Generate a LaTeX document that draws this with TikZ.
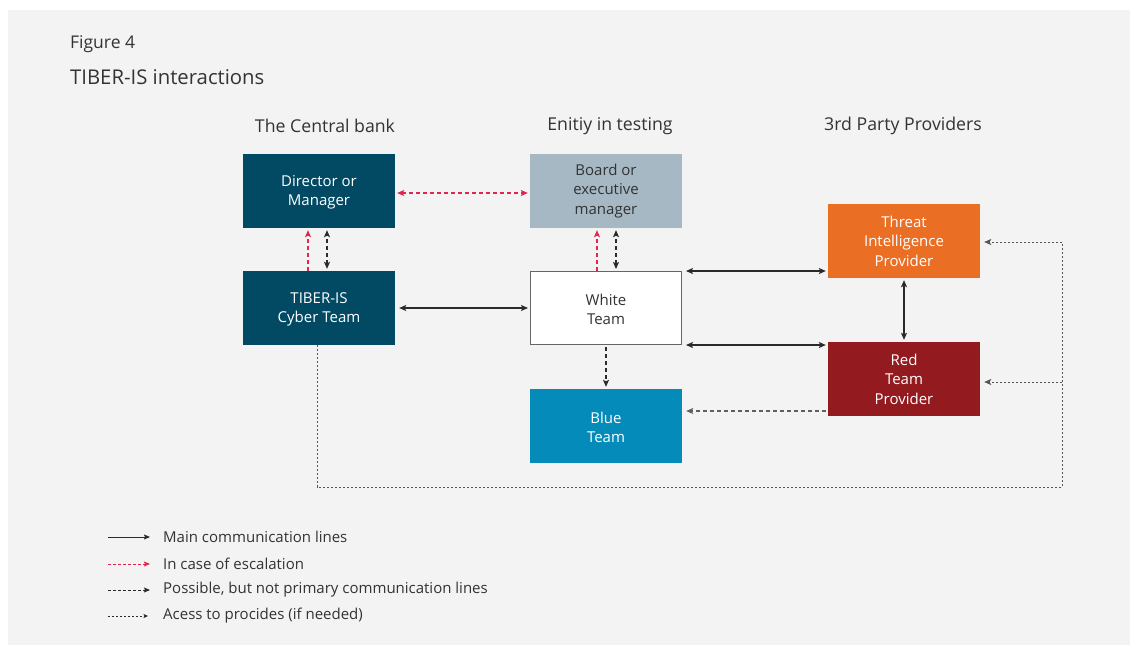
\documentclass[tikz,border=0pt]{standalone}
\usepackage{fontspec}
\setmainfont{Open Sans}
\usetikzlibrary{arrows.meta,calc}
\definecolor{bgc}{HTML}{F3F3F3}
\definecolor{txt}{HTML}{333333}
\definecolor{navy}{HTML}{024A63}
\definecolor{steel}{HTML}{A5B8C4}
\definecolor{bluet}{HTML}{058BBA}
\definecolor{orng}{HTML}{EB6E25}
\definecolor{redt}{HTML}{931A1E}
\definecolor{pinkline}{HTML}{E0254F}
\definecolor{lineg}{HTML}{2A2A2A}
\tikzset{
  box/.style={minimum width=152pt, minimum height=74pt, inner sep=0pt, align=center,
    font=\fontsize{15}{19.5}\selectfont, text=white},
  tip/.style={-{Stealth[length=7pt,width=6pt,inset=1.5pt]}},
  tips/.style={{Stealth[length=7pt,width=6pt,inset=1.5pt]}-{Stealth[length=7pt,width=6pt,inset=1.5pt]}},
  mainline/.style={draw=lineg, line width=1.1pt},
  escline/.style={draw=pinkline, line width=1.1pt, dash pattern=on 4pt off 3pt},
  posline/.style={draw=lineg, line width=1.1pt, dash pattern=on 4pt off 3pt},
  accline/.style={draw=lineg!80, line width=1pt, dash pattern=on 2pt off 2pt},
  hdr/.style={font=\fontsize{17.7}{21}\selectfont, text=txt},
  legtxt/.style={font=\fontsize{15}{18}\selectfont, text=txt, anchor=west, inner sep=0pt},
}
\begin{document}
\begin{tikzpicture}[x=1pt,y=-1pt]
\useasboundingbox (0,0) rectangle (1138,649);
\fill[white] (0,0) rectangle (1138,649);
\fill[bgc] (8,10) rectangle (1130,645);

\node[anchor=west, inner sep=0pt, font=\fontsize{17.5}{20}\selectfont, text=txt] (fig) at (70,44) {Figure 4};
\node[anchor=west, inner sep=0pt, font=\fontsize{20.3}{24}\selectfont, text=txt] (title) at (70,77) {TIBER-IS interactions};

\node[hdr] (h1) at (325,126) {The Central bank};
\node[hdr] (h2) at (610,126) {Enitiy in testing};
\node[hdr] (h3) at (903,126) {3rd Party Providers};

\node[box, fill=navy] (dir) at (319,191) {\strut Director or\\Manager};
\node[box, fill=navy] (tiber) at (319,308) {\strut TIBER-IS\\Cyber Team};
\node[box, fill=steel, text=txt] (board) at (606,191) {Board or\\executive\\manager};
\node[box, fill=white, draw=black!60, line width=1pt, text=txt, minimum width=151pt, minimum height=73pt] (white) at (606,308) {\strut White\\Team};
\node[box, fill=bluet] (blue) at (606,426) {\strut Blue\\Team};
\node[box, fill=orng] (threat) at (904,241) {Threat\\Intelligence\\Provider};
\node[box, fill=redt] (red) at (904,379) {Red\\Team\\Provider};

% escalation
\draw[escline, shorten <=2pt, shorten >=2pt, {Stealth[length=7pt,width=6pt,inset=1.5pt]}-{Stealth[length=7pt,width=6pt,inset=1.5pt]}] ($(dir.east)+(0,2)$) -- ($(board.west)+(0,2)$);
\draw[escline, tip, shorten >=2pt] ([xshift=-11pt]tiber.north) -- ([xshift=-11pt]dir.south);
\draw[escline, tip, shorten >=2pt] ([xshift=-9pt]white.north) -- ([xshift=-9pt]board.south);
% possible
\draw[posline, tips, shorten <=2pt, shorten >=2pt] ([xshift=8pt]tiber.north) -- ([xshift=8pt]dir.south);
\draw[posline, tips, shorten <=2pt, shorten >=2pt] ([xshift=10pt]white.north) -- ([xshift=10pt]board.south);
\draw[posline, tip, shorten <=2pt, shorten >=2pt] (white.south) -- (blue.north);
\coordinate (rb) at ($(red.west)+(0,32)$);
\draw[posline, draw=lineg!75, tip, shorten <=2pt, shorten >=4pt] (rb) -- (rb -| blue.east);
% main
\draw[mainline, tips, shorten <=4pt, shorten >=2pt] (tiber.east) -- (white.west);
\draw[mainline, tips, shorten <=4pt, shorten >=2pt] (white.north east) -- (white.north east -| threat.west);
\draw[mainline, tips, shorten <=4pt, shorten >=2pt] (white.south east) -- (white.south east -| red.west);
\draw[mainline, tips, shorten <=2pt, shorten >=2pt] (threat.south) -- (red.north);
% access
\coordinate (c1) at (1062,487);
\coordinate (c2) at (1062,242);
\coordinate (c3) at (1062,382);
\draw[accline] ([xshift=-2pt]tiber.south) |- (c1) -- (c2);
\draw[accline, tip, shorten >=4pt] (c2) -- (c2 -| threat.east);
\draw[accline, tip, shorten >=4pt] (c3) -- (c3 -| red.east);

% legend
\coordinate (l1a) at (108,537); \coordinate (l1b) at (150,537);
\coordinate (l2a) at (108,564); \coordinate (l2b) at (150,564);
\coordinate (l3a) at (108,590); \coordinate (l3b) at (150,590);
\coordinate (l4a) at (108,616); \coordinate (l4b) at (148,616);
\draw[draw=lineg, line width=1pt, -{Stealth[length=6pt,width=5pt,inset=1pt]}] (l1a) -- (l1b);
\draw[draw=pinkline, line width=1pt, dash pattern=on 3pt off 2pt, -{Stealth[length=6pt,width=5pt,inset=1pt]}] (l2a) -- (l2b);
\draw[draw=lineg, line width=0.9pt, dash pattern=on 3pt off 2pt, -{Stealth[length=6pt,width=5pt,inset=1pt]}] (l3a) -- (l3b);
\draw[draw=lineg, line width=0.8pt, dash pattern=on 2pt off 2pt, -{Stealth[length=4.5pt,width=4pt,inset=1pt]}] (l4a) -- (l4b);
\node[legtxt] (t1) at (163,537) {Main communication lines};
\node[legtxt] (t2) at (163,564) {In case of escalation};
\node[legtxt] (t3) at (163,590) {Possible, but not primary communication lines};
\node[legtxt] (t4) at (163,616) {Acess to procides (if needed)};
\end{tikzpicture}
\end{document}
